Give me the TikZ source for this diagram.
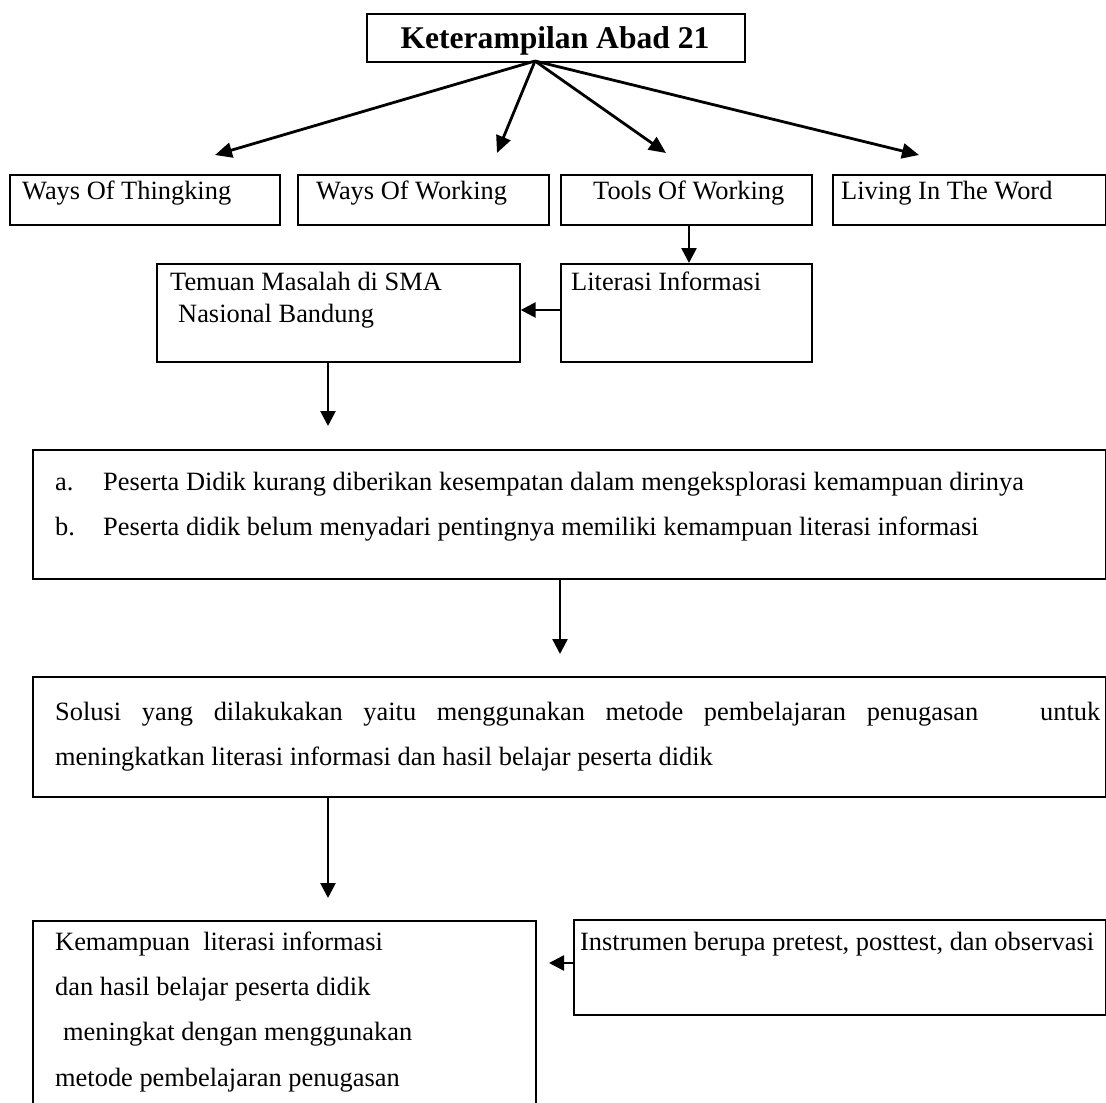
\documentclass[tikz,border=0pt]{standalone}
\usepackage{fontspec}
\setmainfont{Liberation Serif}
\usetikzlibrary{arrows.meta}
\begin{document}
\begin{tikzpicture}[x=1pt,y=-1pt,
  box/.style={draw, line width=1.7pt, inner sep=0pt, anchor=north west},
  lbl/.style={anchor=base west, inner sep=0pt, font=\fontsize{26.4}{30}\selectfont},
  ttl/.style={anchor=base, inner sep=0pt, font=\fontsize{31.6}{36}\selectfont\bfseries},
  arr/.style={line width=2.6pt, -{Triangle[length=15pt,width=15pt]}},
  tarr/.style={line width=2.8pt, -{Triangle[length=17pt,width=15pt]}}]
\useasboundingbox (0,0) rectangle (1106,1103);
\fill[white] (0,0) rectangle (1106,1103);
\clip (0,0) rectangle (1106,1103);

% boxes
\node[box, minimum width=378pt, minimum height=48pt] (title) at (366,13) {};
\node[box, minimum width=270pt, minimum height=50pt] (wt) at (9,174) {};
\node[box, minimum width=251pt, minimum height=50pt] (ww) at (297,174) {};
\node[box, minimum width=251pt, minimum height=50pt] (tw) at (560,174) {};
\node[box, minimum width=272.5pt, minimum height=50pt] (lw) at (832,174) {};
\node[box, minimum width=363pt, minimum height=98pt] (tem) at (156,263) {};
\node[box, minimum width=251pt, minimum height=98pt] (lit) at (560,263) {};
\node[box, minimum width=1072.5pt, minimum height=129pt] (prob) at (32,449) {};
\node[box, minimum width=1072.5pt, minimum height=120pt] (sol) at (32,676) {};
\node[box, minimum width=503pt, minimum height=220pt] (kem) at (32,920) {};
\node[box, minimum width=531.5pt, minimum height=95pt] (ins) at (573,919) {};

% texts
\node[ttl] (ttitle) at (555,48) {Keterampilan Abad 21};
\node[lbl] (twt) at (22,199) {Ways Of Thingking};
\node[lbl] (tww) at (316,199) {Ways Of Working};
\node[lbl] (ttw) at (593,199) {Tools Of Working};
\node[lbl] (tlw) at (841,199) {Living In The Word};
\node[lbl] (ttem1) at (170,290) {Temuan Masalah di SMA};
\node[lbl] (ttem2) at (178,322) {Nasional Bandung};
\node[lbl] (tlit) at (571,290) {Literasi Informasi};
\node[lbl] (ta) at (55,490) {a.};
\node[lbl] (tal) at (103,490) {Peserta Didik kurang diberikan kesempatan dalam mengeksplorasi kemampuan dirinya};
\node[lbl] (tb) at (55,535) {b.};
\node[lbl] (tbl) at (103,535) {Peserta didik belum menyadari pentingnya memiliki kemampuan literasi informasi};
\node[lbl] (tsol1) at (55,720) {\makebox[1045pt][s]{Solusi yang dilakukakan yaitu menggunakan metode pembelajaran penugasan \ \ untuk}};
\node[lbl] (tsol2) at (55,765) {meningkatkan literasi informasi dan hasil belajar peserta didik};
\node[lbl] (tkem1) at (55,950) {Kemampuan\ \ literasi informasi};
\node[lbl] (tkem2) at (55,995) {dan hasil belajar peserta didik};
\node[lbl] (tkem3) at (63,1040) {meningkat dengan menggunakan};
\node[lbl] (tkem4) at (55,1086) {metode pembelajaran penugasan};
\node[lbl] (tins) at (580,950) {Instrumen berupa pretest, posttest, dan observasi};

% connector end points
\coordinate (o) at (535,61);
\coordinate (e1) at (215,155);
\coordinate (e2) at (497,153);
\coordinate (e3) at (666,153);
\coordinate (e4) at (919,155);
\coordinate (p1) at (328,426);
\coordinate (p2) at (560,654);
\coordinate (p3) at (328,898);
\coordinate (p4) at (549,963);

% connectors
\draw[tarr] (o) -- (e1);
\draw[tarr] (o) -- (e2);
\draw[tarr] (o) -- (e3);
\draw[tarr] (o) -- (e4);
\draw[arr] (tw.south -| 689,0) -- (lit.north -| 689,0);
\draw[arr] (lit.west |- 0,310) -- (tem.east |- 0,310);
\draw[arr] (tem.south -| p1) -- (p1);
\draw[arr] (prob.south -| p2) -- (p2);
\draw[arr] (sol.south -| p3) -- (p3);
\draw[arr] (ins.west |- p4) -- (p4);
\end{tikzpicture}
\end{document}
